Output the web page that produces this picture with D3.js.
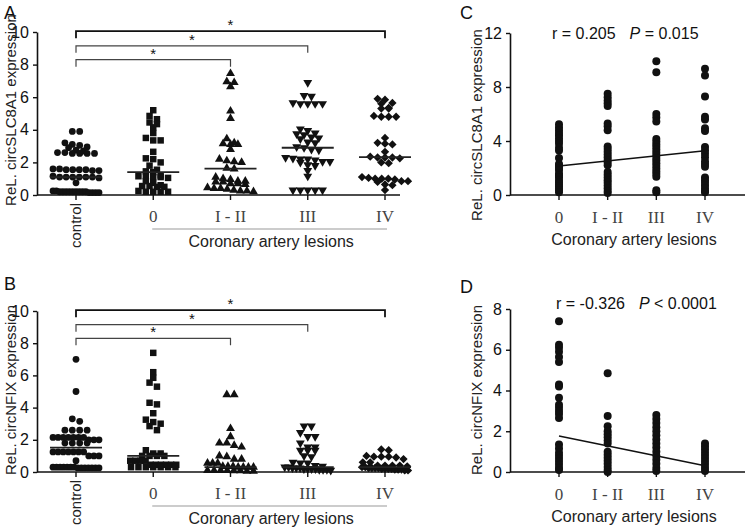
<!DOCTYPE html>
<html><head><meta charset="utf-8">
<script src="https://cdn.jsdelivr.net/npm/d3@7"></script>
<style>body{margin:0;background:#fff}svg{display:block}</style>
</head><body>
<svg id="chart" width="749" height="531"></svg>
<script>
// ---------------- DATA ----------------
const groupsAB = ["control", "0", "I - II", "III", "IV"];
const groupsCD = ["0", "I - II", "III", "IV"];

// Panel A: Rel. circSLC8A1 expression
const slcControl = [3.9, 3.9, 3.2, 3.1, 3.05, 2.95, 2.9, 2.75, 2.7, 2.6, 2.6, 2.55, 2.55, 2.55, 2.55,
  1.6, 1.6, 1.55, 1.55, 1.55, 1.55, 1.5, 1.5, 1.15, 1.1, 1.1, 1.1, 1.1, 1.1, 1.1, 1.05, 0.75,
  0.25, 0.25, 0.2, 0.2, 0.2, 0.2, 0.2, 0.2, 0.2, 0.2, 0.15, 0.15, 0.15, 0.15, 0.2];
const slc0 = [5.2, 4.85, 4.65, 4.45, 4.35, 4.15, 3.8, 3.5, 3.35, 3.35, 2.65, 2.25, 2.2, 2.0, 1.8,
  1.55, 1.45, 1.4, 1.2, 1.15, 1.15, 1.1, 1.1, 1.05, 0.85, 0.75, 0.6, 0.55, 0.55, 0.5, 0.5,
  0.25, 0.2, 0.2, 0.2, 0.2];
const slcI_II = [7.45, 6.95, 6.9, 6.65, 5.15, 4.7, 3.45, 3.2, 3.15, 3.1, 3.1, 2.8, 2.2, 2.1, 2.05,
  2.0, 1.65, 1.6, 1.1, 1.0, 0.95, 0.85, 0.85, 0.8, 0.8, 0.7, 0.7, 0.65, 0.45, 0.4, 0.4, 0.35,
  0.3, 0.25, 0.25, 0.2];
const slcIII = [6.9, 6.1, 6.05, 5.65, 5.6, 5.6, 5.6, 5.6, 4.05, 3.95, 3.8, 3.75, 3.7, 3.55, 3.5,
  3.45, 3.25, 3.2, 2.95, 2.9, 2.8, 2.75, 2.3, 2.25, 2.2, 2.2, 2.15, 2.05, 2.05, 2.0, 1.85, 1.8,
  1.5, 1.15, 0.3, 0.3, 0.3, 0.3, 0.3];
const slcIV = [5.9, 5.85, 5.65, 5.6, 5.35, 5.3, 5.3, 4.85, 4.8, 4.8, 4.8, 3.5, 3.2, 3.15, 3.1, 2.65,
  2.35, 2.3, 2.3, 2.3, 2.25, 2.0, 1.95, 1.1, 1.05, 1.0, 1.0, 1.0, 0.95, 0.85, 0.85, 0.8, 0.65,
  0.6, 0.3];
const slcMedians = [1.1, 1.4, 1.62, 2.9, 2.32];

// Panel B: Rel. circNFIX expression
const nfixControl = [7.0, 5.0, 3.3, 3.15, 2.6, 2.6, 2.6, 2.6, 2.15, 2.15, 2.15, 2.15, 2.15, 2.15, 2.15,
  2.0, 2.0, 2.0, 1.8, 1.8, 1.8, 1.8, 1.25, 1.25, 1.25, 1.25, 1.25, 1.25, 1.25, 1.0, 1.0, 1.0, 0.7,
  0.3, 0.3, 0.3, 0.3, 0.3, 0.3, 0.3, 0.25, 0.25, 0.25, 0.25, 0.25, 0.25, 0.25];
const nfix0 = [7.4, 6.2, 5.85, 5.55, 5.3, 4.3, 4.2, 3.65, 3.25, 3.1, 3.0, 2.85, 2.6, 1.35, 1.15, 1.15,
  1.0, 1.0, 1.0, 1.0, 0.7, 0.7, 0.7, 0.7, 0.45, 0.45, 0.45, 0.45, 0.45, 0.45, 0.3, 0.3, 0.3, 0.3,
  0.3, 0.3, 0.3];
const nfixI_II = [4.8, 4.8, 2.7, 2.2, 1.8, 1.8, 1.65, 1.55, 1.0, 0.95, 0.8, 0.8, 0.55, 0.55, 0.55,
  0.35, 0.35, 0.35, 0.3, 0.3, 0.3, 0.3, 0.1, 0.1, 0.1, 0.1, 0.08, 0.08, 0.05, 0.05];
const nfixIII = [2.85, 2.85, 2.45, 2.2, 2.2, 1.8, 1.55, 1.55, 1.35, 1.35, 1.35, 1.0, 0.95, 0.6, 0.55,
  0.55, 0.4, 0.35, 0.3, 0.3, 0.25, 0.25, 0.25, 0.2, 0.2, 0.2, 0.2, 0.15, 0.15, 0.15, 0.1];
const nfixIV = [1.4, 1.35, 1.0, 0.95, 0.95, 0.95, 0.9, 0.8, 0.6, 0.6, 0.4, 0.4, 0.4, 0.4, 0.35, 0.3,
  0.3, 0.25, 0.25, 0.25, 0.25, 0.2, 0.2, 0.2, 0.2, 0.15, 0.15, 0.15, 0.1, 0.1];
const nfixMedians = [1.52, 1.0, 0.3, 0.3, 0.3];

// Panel C: correlation, circSLC8A1
const corrSlc0 = [5.25, 5.0, 4.8, 4.6, 4.4, 4.2, 4.0, 3.8, 3.5, 3.3, 2.75, 2.3, 2.15, 2.0, 1.85, 1.6,
  1.45, 1.3, 1.1, 0.95, 0.8, 0.65, 0.5, 0.35, 0.2];
const corrSlcI_II = [7.5, 7.25, 7.0, 6.8, 6.6, 5.3, 5.1, 4.8, 3.6, 3.4, 3.2, 3.0, 2.8, 2.6, 2.4, 2.2,
  1.7, 1.5, 1.3, 1.1, 0.9, 0.7, 0.5, 0.3, 0.15];
const corrSlcIII = [9.9, 9.1, 6.0, 5.75, 5.45, 4.15, 3.95, 3.75, 3.55, 3.35, 3.15, 2.95, 2.75, 2.55,
  2.35, 2.15, 1.95, 1.75, 1.55, 1.35, 0.35, 0.2];
const corrSlcIV = [9.35, 8.85, 7.3, 5.8, 5.6, 4.95, 4.75, 3.55, 3.3, 3.05, 2.8, 2.5, 2.3, 2.1, 1.3,
  1.1, 0.9, 0.7, 0.5, 0.3, 0.2];
const corrSlcFit = [2.15, 3.28];     // fitted line at first and last group
const corrSlcStats = {r: "0.205", p: "= 0.015"};

// Panel D: correlation, circNFIX
const corrNfix0 = [7.4, 6.25, 6.1, 5.9, 5.65, 5.4, 4.3, 4.2, 3.65, 3.3, 3.15, 3.0, 2.85, 2.65, 1.35,
  1.15, 0.95, 0.8, 0.65, 0.5, 0.35, 0.2, 0.1];
const corrNfixI_II = [4.85, 2.75, 2.25, 2.0, 1.85, 1.7, 1.55, 1.4, 1.0, 0.85, 0.7, 0.55, 0.4, 0.25,
  0.1, 0.0];
const corrNfixIII = [2.8, 2.6, 2.4, 2.2, 2.0, 1.8, 1.6, 1.4, 1.2, 1.0, 0.8, 0.6, 0.4, 0.2, 0.05];
const corrNfixIV = [1.4, 1.25, 1.1, 0.95, 0.8, 0.65, 0.5, 0.35, 0.2, 0.05];
const corrNfixFit = [1.77, 0.31];
const corrNfixStats = {r: "-0.326", p: "< 0.0001"};

const yTicksAB = [0, 2, 4, 6, 8, 10];
const yTicksC = [0, 4, 8, 12];
const yTicksD = [0, 2, 4, 6, 8];
const bracketTargets = ["IV", "III", "I - II"];
const bracketLevels = [10.05, 9.15, 8.3];
const xTitle = "Coronary artery lesions";

// ---------------- DRAW ----------------
const svg = d3.select("#chart");
const SANS = "Liberation Sans, Arial, sans-serif";
const SERIF = "Liberation Serif, Times New Roman, serif";

const shapes = [
  d3.symbol(d3.symbolCircle, 36)(),
  d3.symbol(d3.symbolSquare, 42)(),
  d3.symbol(d3.symbolTriangle, 34)(),
  d3.symbol(d3.symbolTriangle, 34)(),
  d3.symbol(d3.symbolDiamond2, 44)()
];
const shapeRot = [0, 0, 0, 180, 0];

// row-based column scatter (Prism-like)
function swarm(values, cx, y, step, maxHalf) {
  const pts = values.map(v => ({v, y: y(v)})).sort((a, b) => a.y - b.y);
  const rows = [];
  let cur = null;
  for (const p of pts) {
    if (!cur || p.y - cur[0].y > step * 0.6) { cur = [p]; rows.push(cur); }
    else cur.push(p);
  }
  rows.forEach(r => {
    const n = r.length;
    const s = n > 1 ? Math.min(step, 2 * maxHalf / (n - 1)) : 0;
    r.forEach((p, j) => { p.x = cx + (j - (n - 1) / 2) * s; });
  });
  return pts;
}

function yAxis(g, y, ticks, axisX) {
  const ya = g.append("g").attr("transform", `translate(${axisX},0)`)
    .call(d3.axisLeft(y).tickValues(ticks).tickSize(4).tickSizeOuter(0));
  ya.select(".domain").attr("stroke", "#111").attr("stroke-width", 1.6);
  ya.selectAll(".tick line").attr("stroke", "#111").attr("stroke-width", 1.4);
  ya.selectAll(".tick text").attr("font-family", SANS).attr("font-size", 16).attr("fill", "#111").attr("dx", "-1");
}

function drawScatterPanel(cfg) {
  const g = svg.append("g");
  const x = d3.scalePoint().domain(groupsAB).range(cfg.xr);
  const y = d3.scaleLinear().domain([0, 10]).range(cfg.yr);

  g.append("text").attr("x", 4).attr("y", cfg.letterY).text(cfg.letter)
    .attr("font-family", SANS).attr("font-size", 18).attr("fill", "#111");

  yAxis(g, y, yTicksAB, cfg.axisX);

  g.append("line").attr("x1", cfg.axisX).attr("x2", cfg.xEnd).attr("y1", y(0)).attr("y2", y(0))
    .attr("stroke", "#111").attr("stroke-width", 1.6);
  groupsAB.forEach(c => {
    g.append("line").attr("x1", x(c)).attr("x2", x(c)).attr("y1", y(0)).attr("y2", y(0) + 5)
      .attr("stroke", "#111").attr("stroke-width", 1.4);
  });
  g.append("text").attr("transform", `translate(${x("control") + 5},${y(0) + 8}) rotate(-90)`)
    .attr("text-anchor", "end").attr("font-family", SANS).attr("font-size", 15).attr("fill", "#222")
    .text("control");
  groupsAB.slice(1).forEach(c => {
    g.append("text").attr("x", x(c)).attr("y", y(0) + 27).attr("text-anchor", "middle")
      .attr("font-family", SERIF).attr("font-size", 17).attr("fill", "#444").text(c);
  });
  g.append("line").attr("x1", x("0") - 1).attr("x2", x("IV") + 2).attr("y1", y(0) + 34).attr("y2", y(0) + 34)
    .attr("stroke", "#999").attr("stroke-width", 1);
  g.append("text").attr("x", (x("0") + x("IV")) / 2 + 2).attr("y", y(0) + 52).attr("text-anchor", "middle")
    .attr("font-family", SANS).attr("font-size", 16).attr("fill", "#222").text(xTitle);

  g.append("text").attr("transform", `translate(${cfg.yTitleX},${cfg.yTitleY}) rotate(-90)`)
    .attr("text-anchor", "middle").attr("font-family", SANS).attr("font-size", 15).attr("fill", "#222")
    .text(cfg.yTitle);

  bracketTargets.forEach((t, i) => {
    const by = y(bracketLevels[i]);
    const drop = 7;
    const col = i === 0 ? "#111" : "#444";
    const sw = i === 0 ? 1.8 : 1.2;
    g.append("path").attr("d", `M${x("control")},${by + drop}V${by}H${x(t)}V${by + drop}`)
      .attr("fill", "none").attr("stroke", col).attr("stroke-width", sw);
    g.append("text").attr("x", (x("control") + x(t)) / 2).attr("y", by - 1).attr("text-anchor", "middle")
      .attr("font-family", SANS).attr("font-size", 15).attr("fill", "#111").text("*");
  });

  cfg.series.forEach((vals, i) => {
    const cx = x(groupsAB[i]);
    const pts = swarm(vals, cx, y, 7.4, 23);
    g.append("g").selectAll("path").data(pts).join("path")
      .attr("d", shapes[i])
      .attr("transform", d => `translate(${d.x},${d.y}) rotate(${shapeRot[i]})`)
      .attr("fill", "#111");
    g.append("line").attr("x1", cx - 26).attr("x2", cx + 26)
      .attr("y1", y(cfg.medians[i])).attr("y2", y(cfg.medians[i]))
      .attr("stroke", "#222").attr("stroke-width", 1.8);
  });
}

function drawCorrPanel(cfg) {
  const g = svg.append("g");
  const x = d3.scalePoint().domain(groupsCD).range([559, 705]);
  const y = d3.scaleLinear().domain([0, cfg.ymax]).range(cfg.yr);
  const axisX = 510;

  g.append("text").attr("x", 460).attr("y", cfg.letterY).text(cfg.letter)
    .attr("font-family", SANS).attr("font-size", 18).attr("fill", "#111");

  yAxis(g, y, cfg.ticks, axisX);

  g.append("line").attr("x1", axisX).attr("x2", 745).attr("y1", y(0)).attr("y2", y(0))
    .attr("stroke", "#111").attr("stroke-width", 1.6);
  groupsCD.forEach(c => {
    g.append("line").attr("x1", x(c)).attr("x2", x(c)).attr("y1", y(0)).attr("y2", y(0) + 5)
      .attr("stroke", "#111").attr("stroke-width", 1.4);
    g.append("text").attr("x", x(c)).attr("y", y(0) + 28).attr("text-anchor", "middle")
      .attr("font-family", SERIF).attr("font-size", 17).attr("fill", "#444").text(c);
  });
  g.append("text").attr("x", 634).attr("y", y(0) + 50).attr("text-anchor", "middle")
    .attr("font-family", SANS).attr("font-size", 16).attr("fill", "#222").text(xTitle);

  g.append("text").attr("transform", `translate(${482},${cfg.yTitleY}) rotate(-90)`)
    .attr("text-anchor", "middle").attr("font-family", SANS).attr("font-size", 15).attr("fill", "#222")
    .text(cfg.yTitle);

  const st = g.append("text").attr("x", cfg.statX).attr("y", cfg.statY)
    .attr("font-family", SANS).attr("font-size", 16).attr("fill", "#111");
  st.append("tspan").text(`r = ${cfg.stats.r}`);
  st.append("tspan").attr("dx", 14).attr("font-style", "italic").text("P");
  st.append("tspan").text(` ${cfg.stats.p}`);

  cfg.series.forEach((vals, i) => {
    g.append("g").selectAll("circle").data(vals).join("circle")
      .attr("cx", x(groupsCD[i])).attr("cy", d => y(d)).attr("r", 4)
      .attr("fill", "#111");
  });

  g.append("line").attr("x1", x("0")).attr("x2", x("IV"))
    .attr("y1", y(cfg.fit[0])).attr("y2", y(cfg.fit[1]))
    .attr("stroke", "#111").attr("stroke-width", 1.6);
}

drawScatterPanel({
  letter: "A", letterY: 19, axisX: 37, xEnd: 400, xr: [76, 385], yr: [195, 32],
  yTitle: "ReL. circSLC8A1 expression", yTitleX: 16, yTitleY: 110,
  series: [slcControl, slc0, slcI_II, slcIII, slcIV], medians: slcMedians
});
drawScatterPanel({
  letter: "B", letterY: 290, axisX: 37, xEnd: 400, xr: [76, 385], yr: [472, 311],
  yTitle: "ReL. circNFIX expression", yTitleX: 16, yTitleY: 390,
  series: [nfixControl, nfix0, nfixI_II, nfixIII, nfixIV], medians: nfixMedians
});
drawCorrPanel({
  letter: "C", letterY: 19, ymax: 12, yr: [195, 33], ticks: yTicksC,
  yTitle: "ReL. circSLC8A1 expression", yTitleY: 125,
  statX: 552, statY: 39, stats: corrSlcStats, fit: corrSlcFit,
  series: [corrSlc0, corrSlcI_II, corrSlcIII, corrSlcIV]
});
drawCorrPanel({
  letter: "D", letterY: 293, ymax: 8, yr: [472, 309], ticks: yTicksD,
  yTitle: "ReL. circNFIX expression", yTitleY: 390,
  statX: 556, statY: 309, stats: corrNfixStats, fit: corrNfixFit,
  series: [corrNfix0, corrNfixI_II, corrNfixIII, corrNfixIV]
});
</script>
</body></html>
